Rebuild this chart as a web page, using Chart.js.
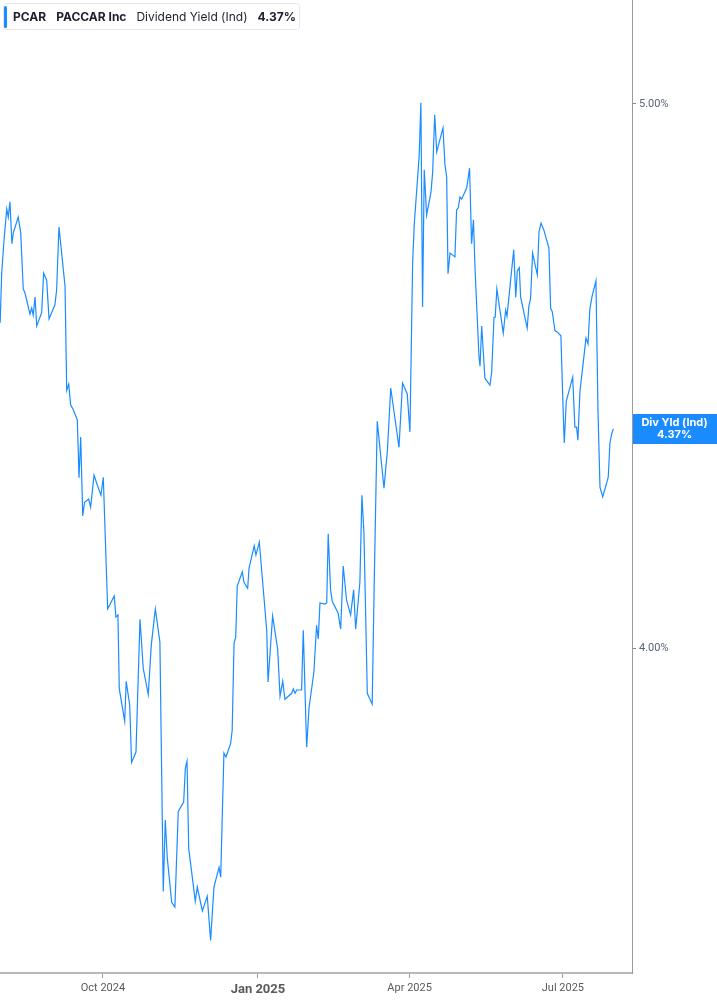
<!doctype html>
<html lang="en">
<head>
<meta charset="UTF-8">
<title>PCAR Dividend Yield</title>
<script src="https://cdn.jsdelivr.net/npm/chart.js"></script>
<style>
    body { margin: 0; background: #fff; }
    .wrap { width: 717px; height: 1005px; position: relative; }
</style>
</head>
<body>
<div class="wrap"><canvas id="yieldChart"></canvas></div>
<script>
// days since 2024-08-01
const days = [0, 0.9, 2.3, 3.9, 4.8, 5.8, 7.0, 7.8, 10.7, 12.2, 13.7, 14.7, 17.7, 18.7, 19.6, 20.7, 21.7, 24.6, 25.8, 27.6,
    29.0, 32.5, 33.5, 34.9, 38.5, 39.5, 40.7, 41.8, 43.4, 45.8, 46.8, 47.8, 49.0, 50.1, 52.5, 53.7, 55.7, 57.3, 59.8, 61.2,
    63.8, 67.7, 68.7, 69.9, 70.7, 73.9, 74.8, 76.9, 78.0, 80.6, 83.0, 84.9, 87.9, 89.7, 92.1, 94.8, 96.8, 98.0, 99.2, 101.8,
    103.7, 105.7, 108.9, 109.9, 110.9, 111.9, 115.8, 117.0, 120.0, 122.9, 124.9, 126.9, 129.9, 130.9, 131.8, 132.8, 134.0, 136.8, 137.7, 138.8,
    139.8, 140.7, 143.7, 144.7, 146.9, 147.7, 150.8, 151.8, 153.8, 158.2, 159.0, 161.7, 164.7, 166.1, 167.7, 169.0, 173.0, 174.0, 175.0, 176.0,
    178.9, 179.9, 181.9, 183.3, 186.2, 187.8, 188.8, 189.8, 192.8, 193.8, 194.7, 196.1, 197.1, 200.6, 202.1, 203.6, 205.6, 208.0, 209.8, 211.0,
    213.5, 214.7, 215.9, 217.9, 220.8, 222.0, 223.8, 227.8, 229.9, 231.8, 236.7, 238.8, 241.6, 243.2, 244.8, 245.8, 247.8, 248.7, 249.7, 250.7,
    251.7, 253.1, 255.7, 256.7, 257.9, 259.1, 262.8, 264.0, 265.0, 265.8, 267.0, 269.9, 270.9, 271.9, 272.9, 273.9, 276.9, 278.6, 279.8, 280.9,
    281.8, 284.2, 284.8, 285.8, 287.7, 290.7, 291.7, 293.1, 293.8, 294.8, 298.6, 300.0, 300.8, 304.8, 306.0, 306.9, 308.1, 308.9, 312.8, 313.8,
    314.8, 316.0, 318.8, 319.8, 321.0, 322.7, 325.7, 326.7, 327.7, 329.3, 330.6, 332.8, 334.2, 334.8, 336.0, 339.8, 341.1, 342.1, 342.9, 344.1,
    346.1, 347.7, 348.9, 350.0, 351.2, 353.6, 354.8, 356.0, 357.6, 358.9, 360.9, 361.9, 362.9, 363.9];

const yields = [4.598, 4.689, 4.750, 4.807, 4.792, 4.820, 4.743, 4.763, 4.792, 4.763, 4.660, 4.653, 4.614, 4.625, 4.612, 4.645, 4.592, 4.616, 4.689, 4.676,
    4.605, 4.631, 4.658, 4.774, 4.665, 4.474, 4.485, 4.447, 4.438, 4.419, 4.313, 4.388, 4.243, 4.268, 4.274, 4.259, 4.318, 4.303, 4.281, 4.314,
    4.072, 4.096, 4.057, 4.061, 3.925, 3.866, 3.939, 3.895, 3.790, 3.809, 4.053, 3.963, 3.915, 4.006, 4.072, 4.011, 3.553, 3.684, 3.614, 3.533,
    3.524, 3.700, 3.717, 3.779, 3.792, 3.632, 3.535, 3.561, 3.517, 3.544, 3.463, 3.561, 3.597, 3.579, 3.689, 3.807, 3.800, 3.825, 3.849, 4.009,
    4.020, 4.114, 4.140, 4.121, 4.110, 4.147, 4.188, 4.171, 4.195, 4.033, 3.938, 4.059, 3.998, 3.912, 3.939, 3.906, 3.917, 3.925, 3.917, 3.923,
    3.923, 4.033, 3.818, 3.890, 3.956, 4.042, 4.017, 4.083, 4.081, 4.083, 4.210, 4.107, 4.086, 4.064, 4.035, 4.151, 4.088, 4.061, 4.107, 4.035,
    4.121, 4.281, 4.211, 3.917, 3.897, 4.119, 4.417, 4.294, 4.366, 4.478, 4.369, 4.487, 4.467, 4.397, 4.708, 4.781, 4.866, 4.906, 5.002, 4.627,
    4.879, 4.796, 4.838, 4.875, 4.980, 4.912, 4.956, 4.888, 4.866, 4.688, 4.726, 4.719, 4.805, 4.809, 4.829, 4.825, 4.846, 4.882, 4.743, 4.787,
    4.700, 4.535, 4.518, 4.592, 4.496, 4.483, 4.506, 4.608, 4.608, 4.660, 4.579, 4.621, 4.610, 4.732, 4.645, 4.693, 4.699, 4.645, 4.588, 4.629,
    4.642, 4.726, 4.686, 4.765, 4.781, 4.768, 4.735, 4.625, 4.618, 4.583, 4.581, 4.574, 4.430, 4.377, 4.454, 4.498, 4.406, 4.406, 4.382, 4.472,
    4.526, 4.570, 4.559, 4.623, 4.645, 4.675, 4.438, 4.296, 4.278, 4.292, 4.314, 4.377, 4.393, 4.403];

const tickDays = [61, 153, 243, 334];
const tickLabels = ['Oct 2024', 'Jan 2025', 'Apr 2025', 'Jul 2025'];
const yTicks = [4, 5];

const ticker = 'PCAR';
const company = 'PACCAR Inc';
const metric = 'Dividend Yield (Ind)';
const lastValue = '4.37%';

const lineColor = '#1a8cff';

// legend box in the top left + value tag on the right axis
const overlay = {
    id: 'overlay',
    afterDraw(chart) {
        const ctx = chart.ctx;
        ctx.save();
        ctx.fillStyle = '#fff';
        ctx.strokeStyle = '#e4e6ea';
        ctx.lineWidth = 1;
        ctx.beginPath();
        ctx.roundRect(3.5, 3.5, 296, 26, 3);
        ctx.fill();
        ctx.stroke();
        ctx.fillStyle = lineColor;
        ctx.beginPath();
        ctx.roundRect(4, 6, 3, 22, 1.5);
        ctx.fill();

        ctx.fillStyle = '#1b1f2e';
        ctx.textBaseline = 'middle';
        const bold = 'bold 12px Inter, "Open Sans", sans-serif';
        const plain = '12px Inter, "Open Sans", sans-serif';
        const parts = [[ticker, bold], [company, bold], [metric, plain], [lastValue, bold]];
        let x = 13;
        parts.forEach(([txt, font]) => {
            ctx.font = font;
            ctx.fillText(txt, x, 17);
            x += ctx.measureText(txt).width + 10;
        });

        const area = chart.chartArea;
        ctx.fillStyle = lineColor;
        ctx.fillRect(area.right + 1, 414, 717 - area.right - 1, 30);
        ctx.fillStyle = '#fff';
        ctx.textAlign = 'center';
        ctx.font = 'bold 11px Inter, "Open Sans", sans-serif';
        const cx = (area.right + 717) / 2;
        ctx.fillText('Div Yld (Ind)', cx, 423);
        ctx.fillText(lastValue, cx, 435);
        ctx.restore();
    }
};

const points = days.map((d, i) => ({ x: d, y: yields[i] }));

new Chart(document.getElementById('yieldChart'), {
    type: 'line',
    data: {
        datasets: [{
            data: points,
            borderColor: lineColor,
            borderWidth: 1.2,
            pointRadius: 0,
            tension: 0,
            fill: false
        }]
    },
    options: {
        responsive: true,
        maintainAspectRatio: false,
        animation: false,
        layout: { padding: 0 },
        plugins: {
            legend: { display: false },
            tooltip: { enabled: false }
        },
        scales: {
            x: {
                type: 'linear',
                min: -0.1,
                max: 375,
                afterFit: (scale) => { scale.height = 32; scale.paddingLeft = 0; scale.paddingRight = 0; },
                afterBuildTicks: (scale) => { scale.ticks = tickDays.map(v => ({ value: v })); },
                grid: { drawOnChartArea: false, tickLength: 5, color: '#9a9a9a', tickWidth: 1 },
                border: { color: '#b8b8b8', width: 2 },
                ticks: {
                    padding: 4,
                    color: '#5a5a5a',
                    maxRotation: 0,
                    autoSkip: false,
                    font: (c) => c.tick && c.tick.value === 153
                        ? { family: 'Roboto, sans-serif', size: 13, weight: 'bold' }
                        : { family: 'Roboto, sans-serif', size: 11 },
                    callback: (v) => tickLabels[tickDays.indexOf(v)]
                }
            },
            y: {
                position: 'right',
                min: 3.403,
                max: 5.191,
                afterFit: (scale) => { scale.width = 85; scale.paddingTop = 0; scale.paddingBottom = 0; },
                afterBuildTicks: (scale) => { scale.ticks = yTicks.map(v => ({ value: v })); },
                grid: { drawOnChartArea: false, tickLength: 4, color: '#888' },
                border: { color: '#9a9a9a', width: 1 },
                ticks: {
                    padding: 3,
                    color: '#5b6478',
                    font: { family: 'Roboto, sans-serif', size: 11 },
                    callback: (v) => v.toFixed(2) + '%'
                }
            }
        }
    },
    plugins: [overlay]
});
</script>
</body>
</html>
